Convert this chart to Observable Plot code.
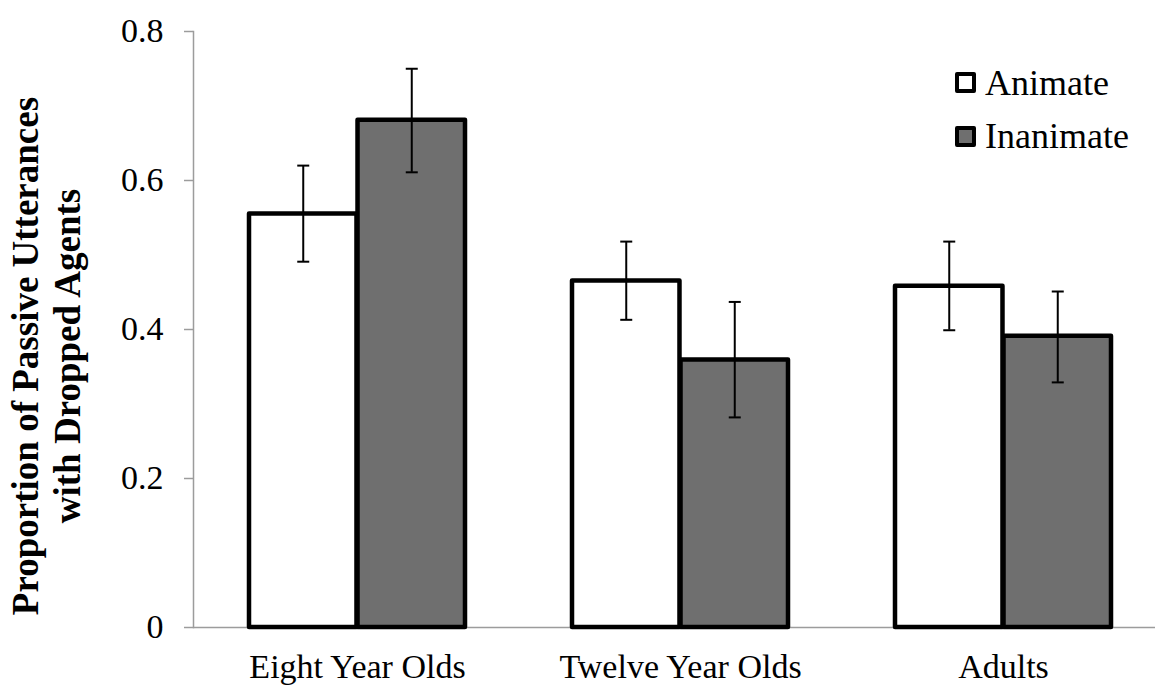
<!DOCTYPE html>
<html>
<head>
<meta charset="utf-8">
<script src="https://cdn.jsdelivr.net/npm/d3@7"></script>
<script src="https://cdn.jsdelivr.net/npm/@observablehq/plot@0.6"></script>
<style>
  html, body { margin: 0; padding: 0; background: #fff; }
  #wrap { position: relative; width: 1155px; height: 685px; font-family: "Liberation Serif", "Times New Roman", serif; }
  .lg-sq { position: absolute; width: 13px; height: 13px; border: 4.5px solid #000; border-radius: 2px; }
  .lg-tx { position: absolute; font-family: "Liberation Serif", "Times New Roman", serif; font-size: 36px; line-height: 36px; color: #000; white-space: nowrap; }
</style>
</head>
<body>
<div id="wrap"></div>
<script>
// ---- data ----
const groups = ["Eight Year Olds", "Twelve Year Olds", "Adults"];
const conditions = ["Animate", "Inanimate"];
const animateValues = [0.555, 0.465, 0.458];
const inanimateValues = [0.681, 0.359, 0.391];
const animateLow = [0.491, 0.413, 0.399];
const animateHigh = [0.620, 0.518, 0.518];
const inanimateLow = [0.611, 0.282, 0.329];
const inanimateHigh = [0.750, 0.437, 0.451];
const yTicks = [0, 0.2, 0.4, 0.6, 0.8];
const yLabelLines = ["Proportion of Passive Utterances", "with Dropped Agents"];
const fills = ["#ffffff", "#6f6f6f"];

const animateRows = groups.map((g, i) => ({group: g, condition: "Animate", value: animateValues[i], low: animateLow[i], high: animateHigh[i]}));
const inanimateRows = groups.map((g, i) => ({group: g, condition: "Inanimate", value: inanimateValues[i], low: inanimateLow[i], high: inanimateHigh[i]}));

const xOpts = {type: "band", domain: groups, range: [193, 1168], paddingInner: 0.33, paddingOuter: 0.17};
const bw = Plot.scale({x: xOpts}).bandwidth;

const capSymbol = {
  draw(context, size) {
    const r = Math.sqrt(size / Math.PI);
    context.moveTo(-r, 0);
    context.lineTo(r, 0);
  }
};

const serif = "'Liberation Serif', 'Times New Roman', serif";
const barStyle = {stroke: "#000", strokeWidth: 4.5, strokeLinejoin: "round"};
const errStyle = {stroke: "#000", strokeWidth: 2};

const chart = Plot.plot({
  width: 1155,
  height: 685,
  marginTop: 31,
  marginBottom: 58,
  marginLeft: 193,
  marginRight: 0,
  style: {fontFamily: serif, background: "#fff", color: "#000"},
  x: {...xOpts, axis: null},
  y: {domain: [0, 0.8], axis: null},
  color: {domain: conditions, range: fills},
  marks: [
    Plot.ruleY([0], {stroke: "#9c9c9c", strokeWidth: 1.5}),
    Plot.frame({anchor: "left", stroke: "#9c9c9c", strokeWidth: 1.5}),
    Plot.axisY({ticks: yTicks, tickFormat: d => d === 0 ? "0" : d.toFixed(1), tickSize: 9, tickPadding: 21, fontSize: 34, fontFamily: serif, stroke: "#9c9c9c", strokeWidth: 1.5, fill: "#000", label: null}),
    Plot.axisX({tickSize: 0, tickPadding: 26, fontSize: 34, fontFamily: serif, fill: "#000", label: null}),
    Plot.barY(animateRows, {x: "group", y: "value", fill: "condition", insetRight: bw / 2, ...barStyle}),
    Plot.barY(inanimateRows, {x: "group", y: "value", fill: "condition", insetLeft: bw / 2, ...barStyle}),
    Plot.ruleX(animateRows, {x: "group", y1: "low", y2: "high", dx: -bw / 4, ...errStyle}),
    Plot.ruleX(inanimateRows, {x: "group", y1: "low", y2: "high", dx: bw / 4, ...errStyle}),
    Plot.dot(animateRows, {x: "group", y: "low", dx: -bw / 4, symbol: capSymbol, r: 6, ...errStyle}),
    Plot.dot(animateRows, {x: "group", y: "high", dx: -bw / 4, symbol: capSymbol, r: 6, ...errStyle}),
    Plot.dot(inanimateRows, {x: "group", y: "low", dx: bw / 4, symbol: capSymbol, r: 6, ...errStyle}),
    Plot.dot(inanimateRows, {x: "group", y: "high", dx: bw / 4, symbol: capSymbol, r: 6, ...errStyle})
  ]
});

const wrap = document.getElementById("wrap");
wrap.appendChild(chart);

// y-axis title (two lines, bold, rotated)
const svg = d3.select(chart);
const ys = chart.scale("y");
const midY = (ys.range[0] + ys.range[1]) / 2 + 27;
const title = svg.append("g").attr("font-family", serif)
  .attr("font-size", 37).attr("font-weight", "bold").attr("fill", "#000");
[38, 80].forEach((bx, i) => {
  title.append("text")
    .attr("transform", `translate(${bx},${midY}) rotate(-90)`)
    .attr("text-anchor", "middle")
    .text(yLabelLines[i]);
});

// legend
const squareTop = [72, 126];
const textTop = [65, 118];
conditions.forEach((c, i) => {
  const sq = document.createElement("div");
  sq.className = "lg-sq";
  sq.style.left = "955px";
  sq.style.top = squareTop[i] + "px";
  sq.style.background = fills[i];
  wrap.appendChild(sq);
  const tx = document.createElement("div");
  tx.className = "lg-tx";
  tx.style.left = "985px";
  tx.style.top = textTop[i] + "px";
  tx.textContent = c;
  wrap.appendChild(tx);
});
</script>
</body>
</html>
